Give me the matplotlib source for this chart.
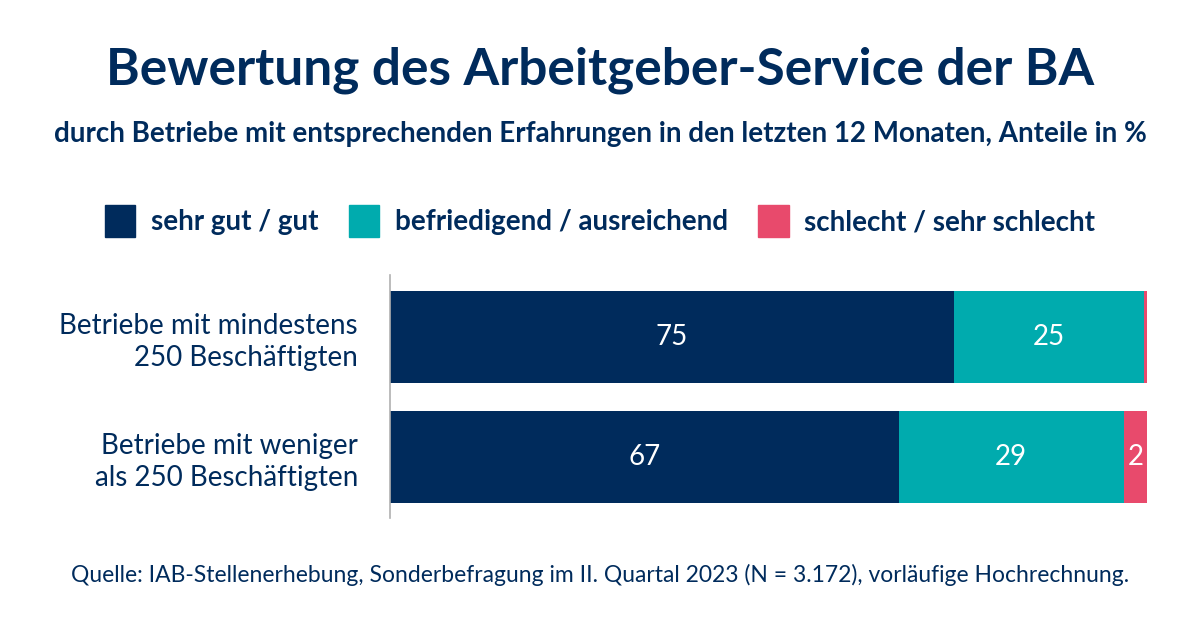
import matplotlib.pyplot as plt

# data
categories = ["Betriebe mit mindestens\n250 Beschäftigten",
              "Betriebe mit weniger\nals 250 Beschäftigten"]
series_names = ["sehr gut / gut", "befriedigend / ausreichend", "schlecht / sehr schlecht"]
sehr_gut = [74.5, 67.2]
befriedigend = [25.1, 29.7]
schlecht = [0.4, 3.1]
# labels as printed in the bars
sehr_gut_labels = ["75", "67"]
befriedigend_labels = ["25", "29"]
schlecht_labels = ["", "2"]

navy = "#002b5c"
teal = "#00abae"
pink = "#e84a6c"
colors = [navy, teal, pink]

plt.rcParams['font.family'] = ['Lato', 'DejaVu Sans']

fig = plt.figure(figsize=(12, 6.28), dpi=100)
ax = fig.add_axes([0.325, 0.175, 0.631, 0.387])

series = [sehr_gut, befriedigend, schlecht]
labels = [sehr_gut_labels, befriedigend_labels, schlecht_labels]
ypos = list(range(len(categories)))
left = [0.0] * len(categories)
for vals, lab, col in zip(series, labels, colors):
    bars = ax.barh(ypos, vals, left=left, height=0.77, color=col)
    for b, t in zip(bars, lab):
        if t:
            ax.text(b.get_x() + b.get_width() / 2, b.get_y() + b.get_height() / 2, t,
                    ha="center", va="center", color="white", fontsize=20)
    left = [l + v for l, v in zip(left, vals)]

ax.set_xlim(0, max(left))
ax.set_ylim(1.51, -0.515)
ax.set_yticks(ypos)
ax.set_yticklabels(categories, fontsize=20, color=navy, linespacing=1.25)
ax.tick_params(axis="y", length=0, pad=23)
ax.set_xticks([])
for s in ["top", "right", "bottom"]:
    ax.spines[s].set_visible(False)
ax.spines["left"].set_color("#b0b0b0")
ax.spines["left"].set_linewidth(1.2)

fig.text(0.5, 0.888, "Bewertung des Arbeitgeber-Service der BA", ha="center", va="center",
         fontsize=37, fontweight="bold", color=navy)
fig.text(0.5, 0.787, "durch Betriebe mit entsprechenden Erfahrungen in den letzten 12 Monaten, Anteile in %",
         ha="center", va="center", fontsize=20, fontweight="bold", color=navy)

# legend
handles = [plt.Rectangle((0, 0), 1, 1, color=c) for c in colors]
fig.legend(handles, series_names, loc="center", bbox_to_anchor=(0.5, 0.648), ncol=3,
           frameon=False, handlelength=1.1, handleheight=1.4, handletextpad=0.55,
           columnspacing=1.1, prop={"size": 20, "weight": "bold"}, labelcolor=navy)

fig.text(0.5, 0.085, "Quelle: IAB-Stellenerhebung, Sonderbefragung im II. Quartal 2023 (N = 3.172), vorläufige Hochrechnung.",
         ha="center", va="center", fontsize=16.5, color=navy)

fig.savefig("out.png", dpi=100, facecolor="white")
